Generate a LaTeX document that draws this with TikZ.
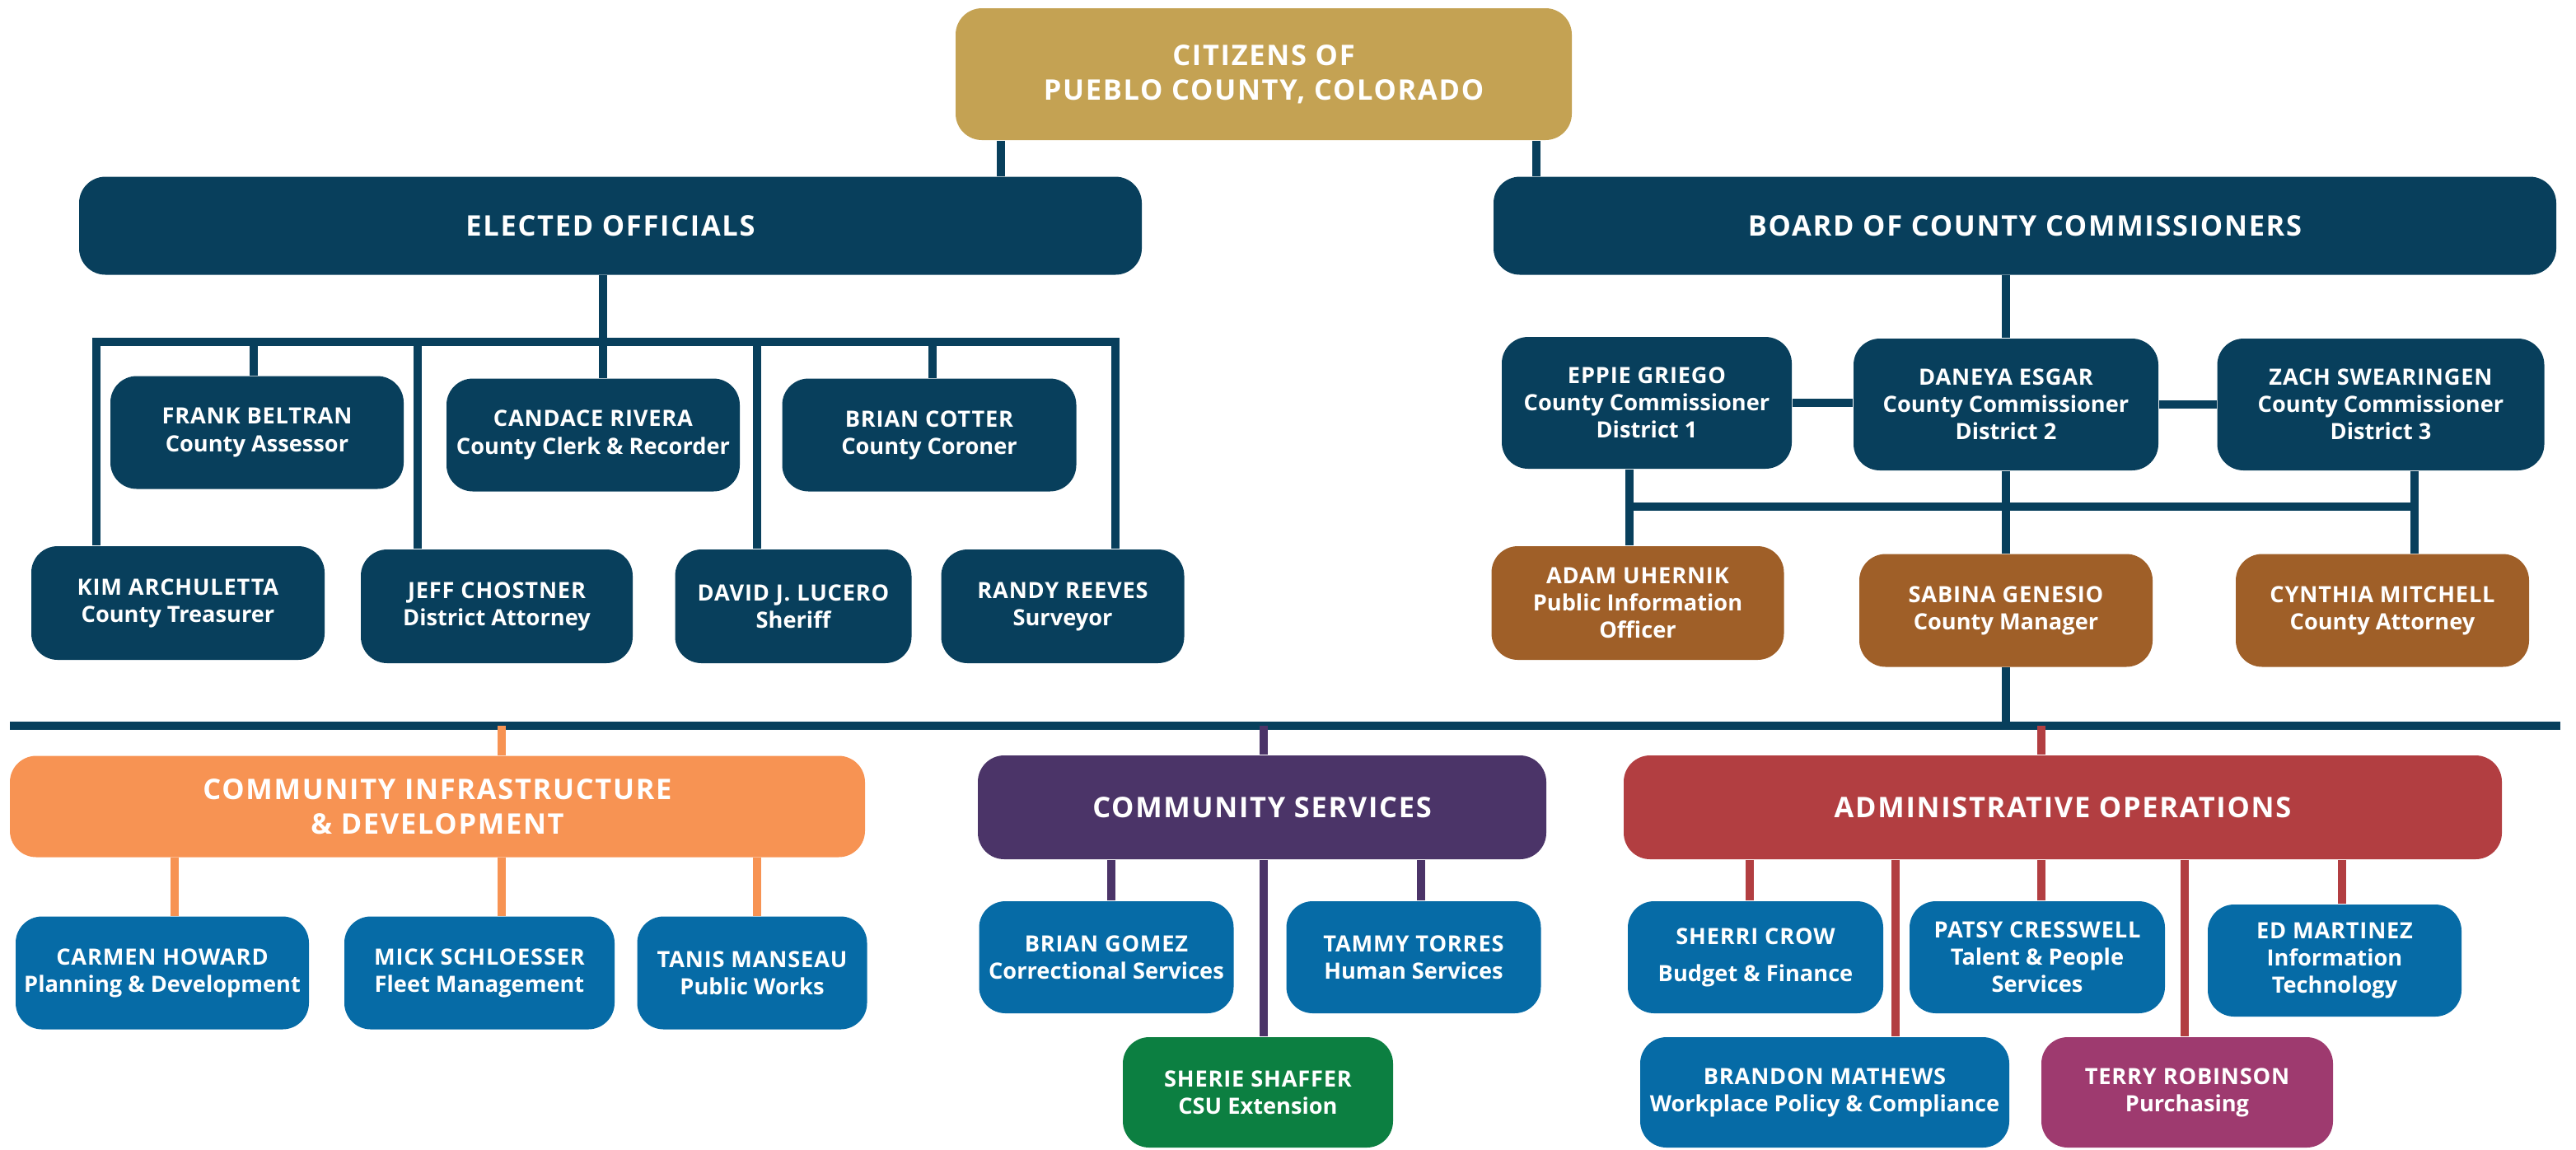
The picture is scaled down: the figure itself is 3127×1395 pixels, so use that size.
\documentclass[tikz,border=0pt]{standalone}
\usepackage{fontspec}
\setmainfont{Open Sans}
\definecolor{navy}{HTML}{083F5C}
\definecolor{gold}{HTML}{C4A253}
\definecolor{brwn}{HTML}{9F5F28}
\definecolor{cidcol}{HTML}{F79353}
\definecolor{cscol}{HTML}{4B3468}
\definecolor{admcol}{HTML}{B23E41}
\definecolor{deptblue}{HTML}{066BA6}
\definecolor{csugreen}{HTML}{0C7F41}
\definecolor{purch}{HTML}{9E3A6F}
\newcommand\nm[1]{{\addfontfeature{LetterSpace=3}#1}}
\tikzset{
  box/.style={rounded corners=8pt, text=white, align=center, inner sep=0pt,
    font=\bfseries\fontsize{6.8}{8.3}\selectfont},
  head/.style={box, font=\bfseries\fontsize{8.6}{10.4}\selectfont\addfontfeature{LetterSpace=5}},
  sz/.style 2 args={minimum width=#1*0.25pt, minimum height=#2*0.25pt},
  bus/.style={line width=2.6pt, line cap=rect},
  link/.style={line width=2.3pt}
}
\begin{document}
\begin{tikzpicture}[x=0.25pt, y=-0.25pt]
\useasboundingbox (0,0) rectangle (3127,1395);

\node[head, fill=gold, sz={748}{160}] (citizens) at (1534,90) {CITIZENS OF\\PUEBLO COUNTY, COLORADO};
\node[head, fill=navy, sz={1290}{119}] (elected) at (741,274) {ELECTED OFFICIALS};
\node[head, fill=navy, sz={1290}{119}] (board) at (2458,274) {BOARD OF COUNTY COMMISSIONERS};

\node[box, fill=navy, sz={356}{137}] (frank) at (312,525) {\nm{FRANK BELTRAN}\\County Assessor};
\node[box, fill=navy, sz={356}{137}] (candace) at (720,528) {\nm{CANDACE RIVERA}\\County Clerk \& Recorder};
\node[box, fill=navy, sz={357}{137}] (cotter) at (1128,528) {\nm{BRIAN COTTER}\\County Coroner};
\node[box, fill=navy, sz={356}{138}] (kim) at (216,732) {\nm{KIM ARCHULETTA}\\County Treasurer};
\node[box, fill=navy, sz={330}{138}] (jeff) at (603,736) {\nm{JEFF CHOSTNER}\\District Attorney};
\node[box, fill=navy, sz={287}{138}] (david) at (963,736) {\nm{DAVID J. LUCERO}\\Sheriff};
\node[box, fill=navy, sz={295}{138}] (randy) at (1290,736) {\nm{RANDY REEVES}\\Surveyor};

\node[box, fill=navy, sz={352}{160}] (eppie) at (1999,489) {\nm{EPPIE GRIEGO}\\County Commissioner\\District 1};
\node[box, fill=navy, sz={370}{160}] (daneya) at (2435,491) {\nm{DANEYA ESGAR}\\County Commissioner\\District 2};
\node[box, fill=navy, sz={397}{160}] (zach) at (2890,491) {\nm{ZACH SWEARINGEN}\\County Commissioner\\District 3};
\node[box, fill=brwn, sz={355}{138}] (adam) at (1988,732) {\nm{ADAM UHERNIK}\\Public Information\\Officer};
\node[box, fill=brwn, sz={356}{137}] (sabina) at (2435,741) {\nm{SABINA GENESIO}\\County Manager};
\node[box, fill=brwn, sz={356}{137}] (cynthia) at (2892,741) {\nm{CYNTHIA MITCHELL}\\County Attorney};

\node[head, fill=cidcol, sz={1038}{123}] (cid) at (531,979) {COMMUNITY INFRASTRUCTURE\\\& DEVELOPMENT};
\node[head, fill=cscol, sz={690}{126}] (cs) at (1532,980) {COMMUNITY SERVICES};
\node[head, fill=admcol, sz={1066}{126}] (admin) at (2504,980) {ADMINISTRATIVE OPERATIONS};

\node[box, fill=deptblue, sz={356}{137}] (carmen) at (197,1181) {\nm{CARMEN HOWARD}\\Planning \& Development};
\node[box, fill=deptblue, sz={328}{137}] (mick) at (582,1181) {\nm{MICK SCHLOESSER}\\Fleet Management};
\node[box, fill=deptblue, sz={279}{137}] (tanis) at (913,1181) {\nm{TANIS MANSEAU}\\Public Works};

\node[box, fill=deptblue, sz={309}{136}] (gomez) at (1343,1162) {\nm{BRIAN GOMEZ}\\Correctional Services};
\node[box, fill=deptblue, sz={309}{136}] (tammy) at (1716,1162) {\nm{TAMMY TORRES}\\Human Services};
\node[box, fill=csugreen, sz={328}{134}] (sherie) at (1527,1326) {\nm{SHERIE SHAFFER}\\CSU Extension};

\node[box, fill=deptblue, sz={310}{136}] (sherri) at (2131,1162) {\nm{SHERRI CROW}\\[3pt]Budget \& Finance};
\node[box, fill=deptblue, sz={310}{136}] (patsy) at (2473,1162) {\nm{PATSY CRESSWELL}\\Talent \& People\\Services};
\node[box, fill=deptblue, sz={308}{136}] (ed) at (2834,1166) {\nm{ED MARTINEZ}\\Information\\Technology};
\node[box, fill=deptblue, sz={448}{134}] (brandon) at (2215,1326) {\nm{BRANDON MATHEWS}\\Workplace Policy \& Compliance};
\node[box, fill=purch, sz={354}{134}] (terry) at (2655,1326) {\nm{TERRY ROBINSON}\\Purchasing};

\coordinate (c1) at (1215,0);
\coordinate (c2) at (1865,0);
\draw[link, navy] (citizens.south -| c1) -- (elected.north -| c1);
\draw[link, navy] (citizens.south -| c2) -- (board.north -| c2);

\foreach \nd/\x [count=\i] in {kim/117,frank/308,jeff/507,candace/732,david/919,cotter/1132,randy/1354} {
  \coordinate (e\i) at (\x,415);
  \draw[link, navy] (e\i) -- (\nd.north -| e\i);
}
\draw[bus, navy] (e1) -- (e7);
\draw[link, navy] (elected.south -| e4) -- (e4);

\draw[link, navy] (board.south -| daneya) -- (daneya.north);
\draw[bus, navy, line cap=butt] (eppie.east) -- (eppie.east -| daneya.west);
\draw[bus, navy, line cap=butt] (daneya.east) -- (zach.west);
\foreach \up/\dn/\x [count=\i] in {eppie/adam/1978,daneya/sabina/2435,zach/cynthia/2931} {
  \coordinate (b\i) at (\x,615);
  \draw[link, navy] (\up.south -| b\i) -- (\dn.north -| b\i);
}
\draw[bus, navy] (b1) -- (b3);

\coordinate (m1) at (12,881);
\coordinate (m2) at (3108,881);
\draw[bus, navy, line cap=butt] (m1) -- (m2);
\draw[link, navy] (sabina.south) -- (sabina.south |- m1);

\foreach \nd/\x/\cl in {cid/609/cidcol,cs/1534/cscol,admin/2478/admcol} {
  \coordinate (d-\nd) at (\x,881);
  \draw[link, \cl] (d-\nd) -- (\nd.north -| d-\nd);
}

\foreach \top/\nd/\x/\cl in {cid/carmen/212/cidcol,cid/mick/609/cidcol,cid/tanis/919/cidcol,
    cs/gomez/1349/cscol,cs/tammy/1725/cscol,cs/sherie/1534/cscol,
    admin/sherri/2124/admcol,admin/brandon/2301/admcol,admin/patsy/2478/admcol,
    admin/terry/2652/admcol,admin/ed/2843/admcol} {
  \coordinate (k) at (\x,0);
  \draw[link, \cl] (\top.south -| k) -- (\nd.north -| k);
}

\end{tikzpicture}
\end{document}
